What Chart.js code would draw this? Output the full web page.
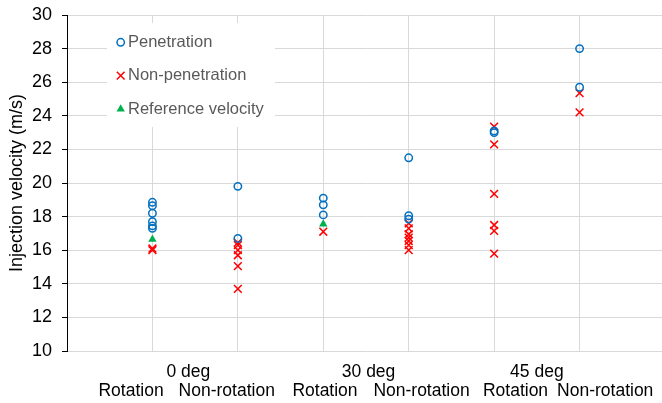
<!DOCTYPE html>
<html>
<head>
<meta charset="utf-8">
<title>Injection velocity</title>
<script src="https://cdn.jsdelivr.net/npm/chart.js@4.4.0/dist/chart.umd.min.js"></script>
<style>
  html, body { margin: 0; padding: 0; background: #fff; overflow: hidden; }
  #wrap { width: 662px; height: 403px; overflow: hidden; }
</style>
</head>
<body>
<!-- the plot runs a few px past the right edge, like the original -->
<div id="wrap"><canvas id="chart" width="665" height="403"></canvas></div>
<script>
// x position of each test condition on the chart
const groupX = [1, 2, 3, 4, 5, 6];
const groupLabels = ['0 deg', '30 deg', '45 deg'];
const subLabels = ['Rotation', 'Non-rotation', 'Rotation', 'Non-rotation', 'Rotation', 'Non-rotation'];
const yTicks = [10, 12, 14, 16, 18, 20, 22, 24, 26, 28, 30];

// injection velocities (m/s), one list per condition
const penetration = [
    [18.85, 18.65, 18.2, 17.7, 17.45, 17.3],
    [19.8, 16.7],
    [19.1, 18.7, 18.1],
    [21.5, 18.05, 17.85],
    [23.1, 23.0],
    [28.0, 25.7]
];
const nonPenetration = [
    [16.1, 16.0],
    [16.45, 16.3, 16.0, 15.7, 15.05, 13.7],
    [17.1],
    [17.6, 17.3, 16.95, 16.75, 16.55, 16.3, 16.0],
    [23.35, 22.3, 19.35, 17.5, 17.15, 15.8],
    [25.35, 24.2]
];
const referenceVelocity = [[16.65], [], [17.55], [], [], []];

const FONT = '"Liberation Sans", Arial, sans-serif';

function toPoints(groups) {
    return groups.flatMap((vals, i) => vals.map(v => ({ x: groupX[i], y: v })));
}

// where the category texts sit under the plot (in x-axis units)
const groupLabelPos = [1.42, 3.53, 5.5];
const subLabelPos = [0.75, 1.87, 3.02, 4.15, 5.25, 6.3];

const categoryLabels = {
    id: 'categoryLabels',
    afterDraw(chart) {
        const ctx = chart.ctx;
        const xs = chart.scales.x;
        const bottom = chart.chartArea.bottom;
        ctx.save();
        ctx.fillStyle = '#000';
        ctx.font = '17.5px ' + FONT;
        ctx.textAlign = 'center';
        ctx.textBaseline = 'middle';
        groupLabels.forEach((t, i) => ctx.fillText(t, xs.getPixelForValue(groupLabelPos[i]), bottom + 21));
        subLabels.forEach((t, i) => ctx.fillText(t, xs.getPixelForValue(subLabelPos[i]), bottom + 40));
        ctx.restore();
    }
};

const boxLegend = {
    id: 'boxLegend',
    afterDraw(chart) {
        const ctx = chart.ctx;
        const area = chart.chartArea;
        const left = area.left + 40, top = area.top + 8;
        ctx.save();
        ctx.fillStyle = '#fff';
        ctx.fillRect(left, top, 168, 104);
        ctx.font = '16.5px ' + FONT;
        ctx.textBaseline = 'middle';
        chart.data.datasets.forEach((ds, i) => {
            const mx = left + 13.7, my = top + 19.3 + i * 33.4;
            ctx.lineWidth = ds.pointBorderWidth;
            ctx.strokeStyle = ds.pointBorderColor;
            ctx.fillStyle = ds.pointBackgroundColor;
            Chart.helpers.drawPoint(ctx, {
                pointStyle: ds.pointStyle,
                radius: ds.pointRadius,
                borderWidth: ds.pointBorderWidth,
                rotation: 0
            }, mx, my);
            ctx.fillStyle = '#595959';
            ctx.fillText(ds.label, left + 21, my);
        });
        ctx.restore();
    }
};

new Chart(document.getElementById('chart'), {
    type: 'scatter',
    data: {
        datasets: [
            {
                label: 'Penetration',
                data: toPoints(penetration),
                pointStyle: 'circle',
                pointRadius: 3.7,
                pointBorderWidth: 1.5,
                pointBorderColor: '#0070C0',
                pointBackgroundColor: 'rgba(0,0,0,0)'
            },
            {
                label: 'Non-penetration',
                data: toPoints(nonPenetration),
                pointStyle: 'crossRot',
                pointRadius: 5.5,
                pointBorderWidth: 1.5,
                pointBorderColor: '#FF0000',
                pointBackgroundColor: '#FF0000'
            },
            {
                label: 'Reference velocity',
                data: toPoints(referenceVelocity),
                pointStyle: 'triangle',
                pointRadius: 4.8,
                pointBorderWidth: 0,
                pointBorderColor: '#00B050',
                pointBackgroundColor: '#00B050'
            }
        ]
    },
    options: {
        responsive: false,
        animation: false,
        devicePixelRatio: 1,
        layout: { autoPadding: false, padding: { top: 15, right: 0, bottom: 0, left: 0 } },
        plugins: {
            legend: { display: false },
            tooltip: { enabled: false }
        },
        scales: {
            x: {
                type: 'linear',
                min: 0,
                max: 7,
                ticks: { display: false, stepSize: 1 },
                border: { display: false },
                grid: {
                    drawTicks: false,
                    color: c => c.tick && c.tick.value === 0 ? 'rgba(0,0,0,0)' : '#d9d9d9'
                },
                afterFit: s => { s.height = 52; s.paddingLeft = 0; s.paddingRight = 0; }
            },
            y: {
                min: 10,
                max: 30,
                afterBuildTicks: s => { s.ticks = yTicks.map(v => ({ value: v })); },
                ticks: {
                    color: '#000',
                    font: { family: FONT, size: 18 },
                    padding: 10
                },
                border: { display: true, color: '#000', width: 1 },
                grid: {
                    color: '#d9d9d9',
                    tickColor: '#000',
                    tickLength: 5
                },
                title: {
                    display: true,
                    text: 'Injection velocity (m/s)',
                    color: '#000',
                    font: { family: FONT, size: 18 },
                    padding: { top: 6, bottom: 0 }
                },
                afterFit: s => { s.width = 67; s.paddingTop = 0; s.paddingBottom = 0; }
            }
        }
    },
    plugins: [categoryLabels, boxLegend]
});
</script>
</body>
</html>
